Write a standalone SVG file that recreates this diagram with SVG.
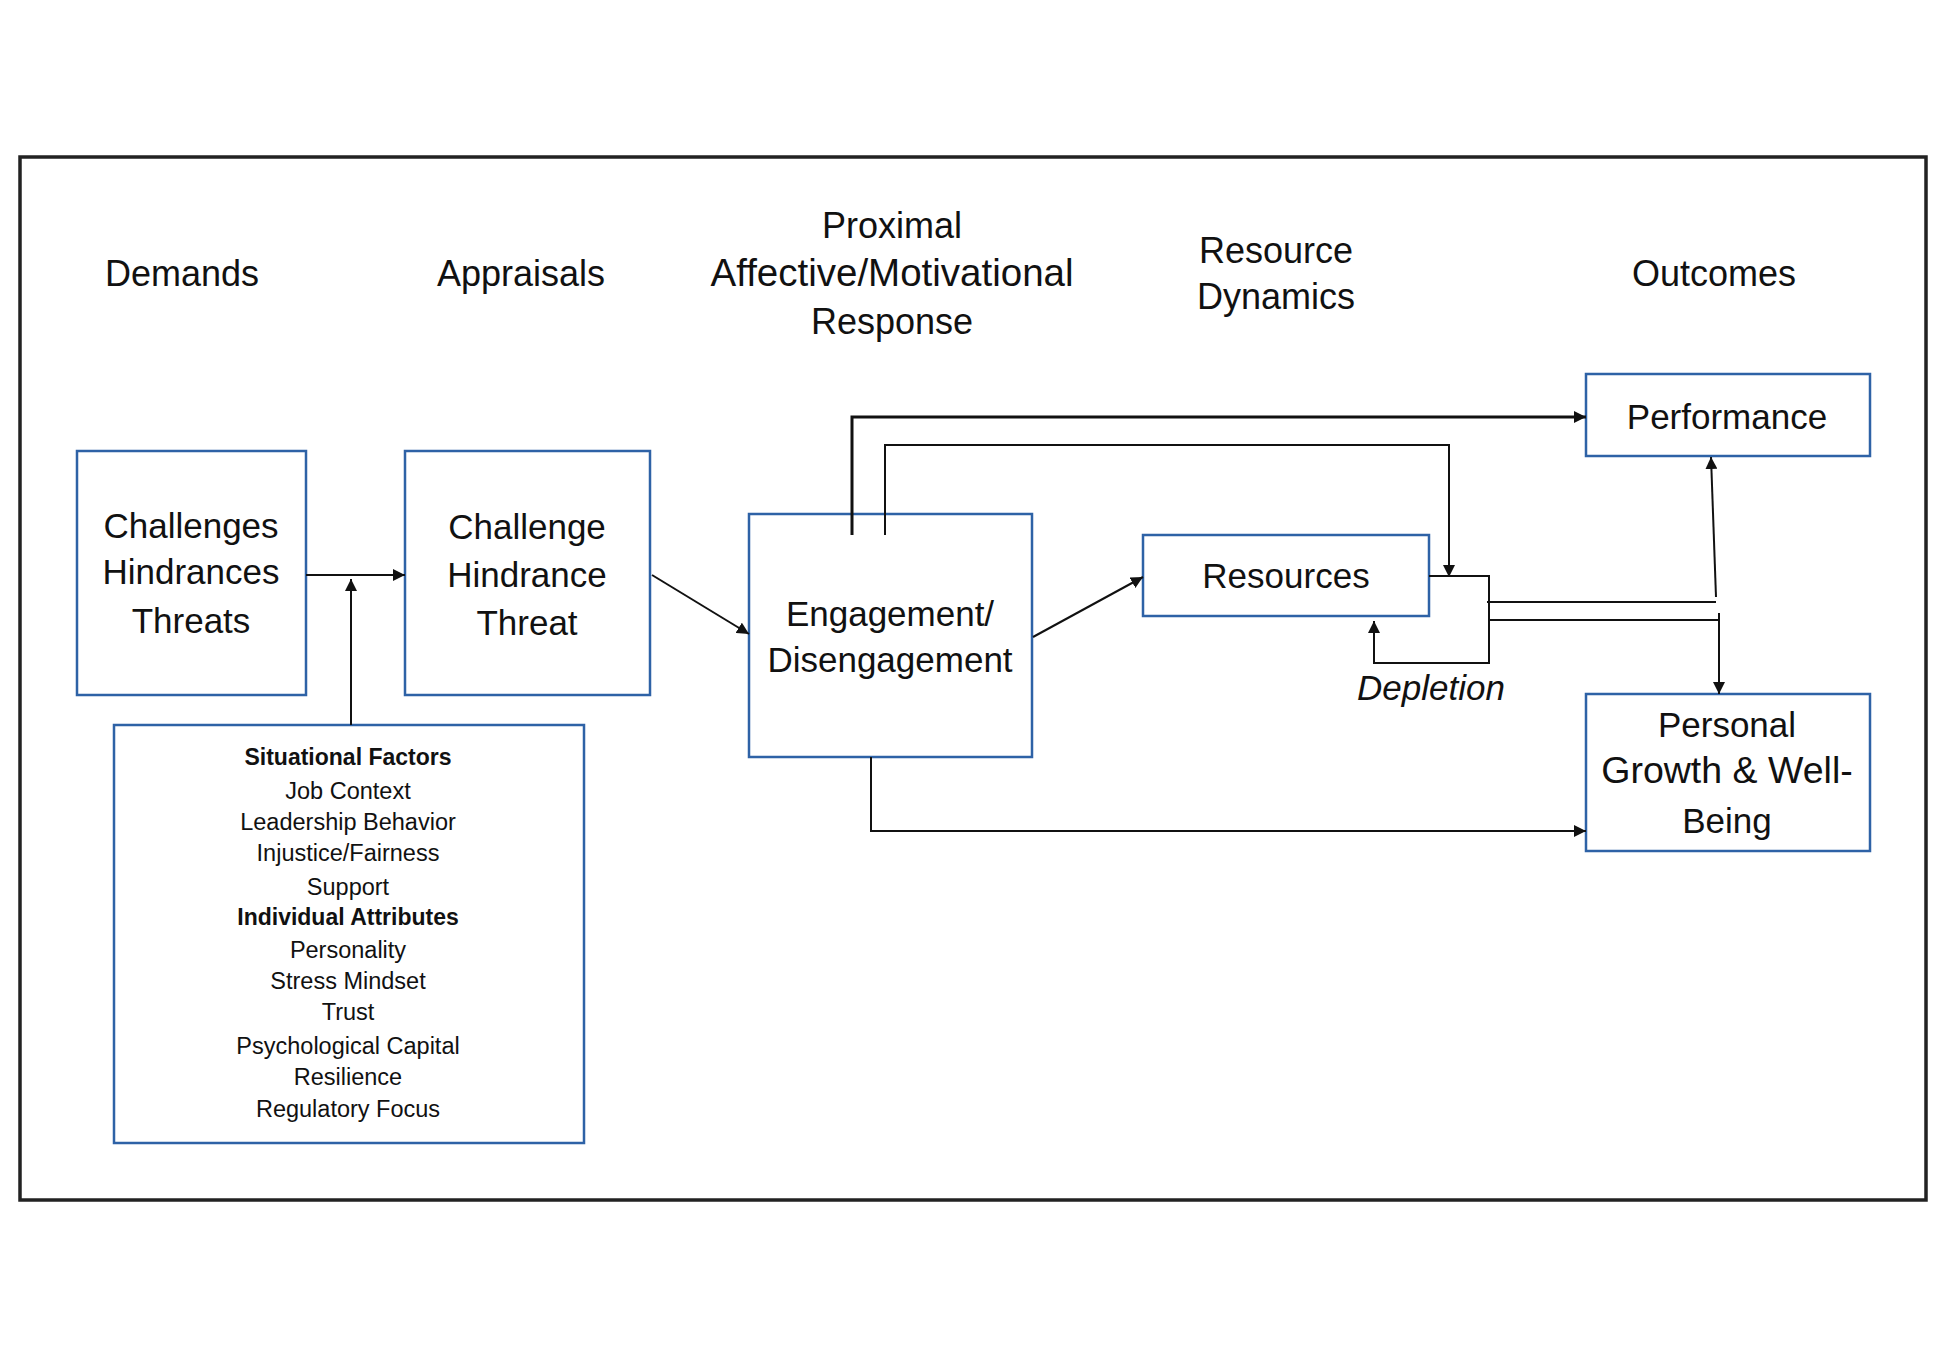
<svg xmlns="http://www.w3.org/2000/svg" width="1950" height="1350" viewBox="0 0 1950 1350">
<defs>
<style>
.box{fill:#fff;stroke:#2E62A6;stroke-width:2.5}
.t{font-family:"Liberation Sans",Arial,sans-serif;font-size:35px;fill:#111;text-anchor:middle}
.h{font-family:"Liberation Sans",Arial,sans-serif;font-size:36px;fill:#111;text-anchor:middle}
.s{font-family:"Liberation Sans",Arial,sans-serif;font-size:23.5px;fill:#111;text-anchor:middle}
.b{font-weight:bold;font-size:23px}
.ln{fill:none;stroke:#111;stroke-width:2}
</style>
<marker id="ar" viewBox="0 0 10 10" refX="10" refY="5" markerWidth="12" markerHeight="12" markerUnits="userSpaceOnUse" orient="auto">
<path d="M0,0 L10,5 L0,10 z" fill="#111"/>
</marker>
</defs>
<rect x="0" y="0" width="1950" height="1350" fill="#fff"/>
<rect x="20" y="157" width="1906" height="1043" fill="none" stroke="#222" stroke-width="3.5"/>
<g id="headers">
<text class="h" x="182" y="286">Demands</text>
<text class="h" x="521" y="286">Appraisals</text>
<text class="h" x="892" y="238">Proximal</text>
<text class="h" x="892" y="286" style="font-size:38.5px">Affective/Motivational</text>
<text class="h" x="892" y="334">Response</text>
<text class="h" x="1276" y="263">Resource</text>
<text class="h" x="1276" y="309">Dynamics</text>
<text class="h" x="1714" y="286">Outcomes</text>
</g>
<g id="demands">
<rect class="box" x="77" y="451" width="229" height="244"/>
<text class="t" x="191" y="538">Challenges</text>
<text class="t" x="191" y="584">Hindrances</text>
<text class="t" x="191" y="633">Threats</text>
</g>
<g id="appraisals">
<rect class="box" x="405" y="451" width="245" height="244"/>
<text class="t" x="527" y="539">Challenge</text>
<text class="t" x="527" y="587">Hindrance</text>
<text class="t" x="527" y="635">Threat</text>
</g>
<g id="moderators">
<rect class="box" x="114" y="725" width="470" height="418"/>
<text class="s b" x="348" y="765">Situational Factors</text>
<text class="s" x="348" y="799">Job Context</text>
<text class="s" x="348" y="830">Leadership Behavior</text>
<text class="s" x="348" y="861">Injustice/Fairness</text>
<text class="s" x="348" y="895">Support</text>
<text class="s b" x="348" y="925">Individual Attributes</text>
<text class="s" x="348" y="958">Personality</text>
<text class="s" x="348" y="989">Stress Mindset</text>
<text class="s" x="348" y="1020">Trust</text>
<text class="s" x="348" y="1054">Psychological Capital</text>
<text class="s" x="348" y="1085">Resilience</text>
<text class="s" x="348" y="1117">Regulatory Focus</text>
</g>
<g id="engagement">
<rect class="box" x="749" y="514" width="283" height="243"/>
<text class="t" x="890" y="626">Engagement/</text>
<text class="t" x="890" y="672">Disengagement</text>
</g>
<g id="resources">
<rect class="box" x="1143" y="535" width="286" height="81"/>
<text class="t" x="1286" y="588">Resources</text>
</g>
<g id="performance">
<rect class="box" x="1586" y="374" width="284" height="82"/>
<text class="t" x="1727" y="429">Performance</text>
</g>
<g id="growth">
<rect class="box" x="1586" y="694" width="284" height="157"/>
<text class="t" x="1727" y="737">Personal</text>
<text class="t" x="1727" y="783" style="font-size:37.5px">Growth &amp; Well-</text>
<text class="t" x="1727" y="833">Being</text>
</g>
<text class="t" x="1431" y="700" font-style="italic">Depletion</text>
<g id="connectors">
<path class="ln" d="M306,575 L405,575" marker-end="url(#ar)"/>
<path class="ln" d="M351,725 L351,579" marker-end="url(#ar)"/>
<path class="ln" d="M652,575 L749,634" marker-end="url(#ar)"/>
<path class="ln" d="M1033,637 L1143,577" marker-end="url(#ar)"/>
<path class="ln" d="M852,535 L852,417 L1586,417" style="stroke-width:3" marker-end="url(#ar)"/>
<path class="ln" d="M885,535 L885,445 L1449,445 L1449,577" marker-end="url(#ar)"/>
<path class="ln" d="M1429,576 L1489,576 L1489,663 L1374,663 L1374,621" marker-end="url(#ar)"/>
<path class="ln" d="M1487,602 L1716,602"/>
<path class="ln" d="M1716,597 L1711,457" marker-end="url(#ar)"/>
<path class="ln" d="M1489,620 L1719,620"/>
<path class="ln" d="M1719,613 L1719,694" marker-end="url(#ar)"/>
<path class="ln" d="M871,757 L871,831 L1586,831" marker-end="url(#ar)"/>
</g>
</svg>
